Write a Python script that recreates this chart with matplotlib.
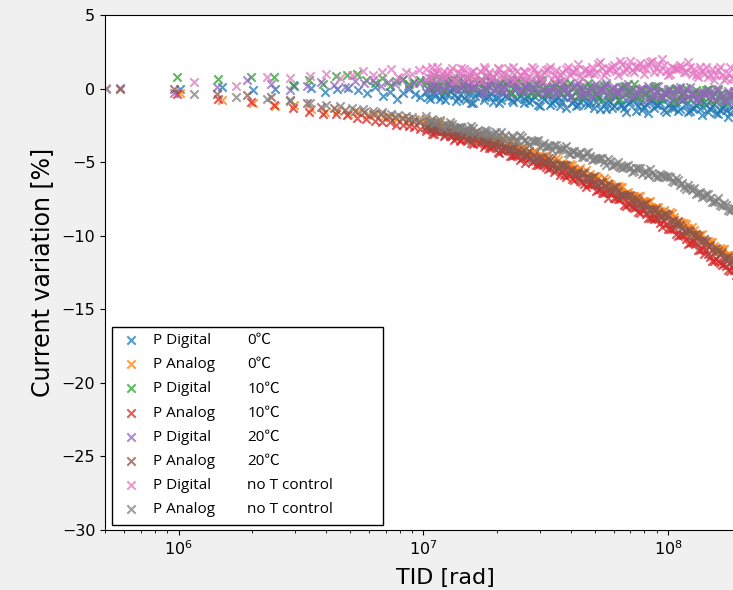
import numpy as np
import matplotlib
matplotlib.use("Agg")
import matplotlib.pyplot as plt
from matplotlib.lines import Line2D
from matplotlib.patches import Rectangle
from matplotlib.font_manager import FontProperties

# ---------------------------------------------------------------------------
# Total ionizing dose of each run, in units of 1e6 rad.
# The first part of every run is sparse; the high-dose readings of all runs
# fall on two interleaved dose lists.
# ---------------------------------------------------------------------------
dose_low_0c = [1.01, 1.50, 2.02, 2.48, 2.96, 3.46, 3.96, 4.44, 4.92, 5.40,
               5.88, 6.36, 6.84, 7.32, 7.80, 8.28, 8.76, 9.24, 9.72]
dose_low_10c = [0.98, 1.45, 1.97, 2.45, 2.92, 3.40, 3.88, 4.38, 4.86, 5.35,
                5.83, 6.31, 6.79, 7.27, 7.75, 8.23, 8.71, 9.19, 9.67]
dose_low_20c = [0.575, 0.96, 1.44, 1.91, 2.39, 2.86, 3.34, 3.82, 4.30, 4.78,
                5.26, 5.74, 6.22, 6.70, 7.18, 7.66, 8.14, 8.62, 9.10, 9.58]
dose_low_not = [0.505, 1.16, 1.72, 2.29, 2.84, 3.43, 3.98, 4.54, 5.10, 5.66,
                6.22, 6.78, 7.34, 7.90, 8.46, 9.02, 9.58]

dose_high = [10.2, 10.6, 11.0, 11.4, 11.9, 12.3, 12.8, 13.3, 13.8, 14.3,
             14.9, 15.4, 16.0, 16.6, 17.3, 17.9, 18.6, 19.3, 20.1, 20.8,
             21.6, 22.5, 23.3, 24.2, 25.2, 26.1, 27.1, 28.2, 29.3, 30.4,
             31.6, 32.8, 34.0, 35.3, 36.7, 38.1, 39.6, 41.1, 42.7, 44.3,
             46.0, 47.8, 49.6, 51.5, 53.5, 55.5, 57.7, 59.9, 62.2, 64.6,
             67.1, 69.6, 72.3, 75.1, 78.0, 81.0, 84.1, 87.3, 90.6, 94.1,
             97.7, 101.5, 105.4, 109.4, 113.6, 118.0, 122.5, 127.2, 132.1, 137.2,
             142.5, 148.0, 153.6, 159.5, 165.7, 172.0, 178.6, 185.5]

dose_mid = [10.4, 10.8, 11.2, 11.65, 12.1, 12.55, 13.05, 13.55, 14.05, 14.6,
            15.15, 15.7, 16.3, 16.95, 17.6, 18.25, 18.95, 19.7, 20.45, 21.2,
            22.05, 22.9, 23.75, 24.7, 25.65, 26.6, 27.65, 28.75, 29.85, 31.0,
            32.2, 33.4, 34.65, 36.0, 37.4, 38.85, 40.35, 41.9, 43.5, 45.15,
            46.9, 48.7, 50.55, 52.5, 54.5, 56.6, 58.8, 61.05, 63.4, 65.85,
            68.35, 70.95, 73.7, 76.55, 79.5, 82.55, 85.7, 88.95, 92.35, 95.9,
            99.6, 103.45, 107.4, 111.5, 115.8, 120.25, 124.85, 129.65, 134.65, 139.85,
            145.25, 150.8, 156.55, 162.6, 168.85, 175.3, 182.05, 189.0]

# ---------------------------------------------------------------------------
# Current variation [%] per channel and temperature setting
# ---------------------------------------------------------------------------
# P Digital, 0 C
pd_0c_low = [-0.05, 0.1, -0.1, -0.05, 0.2, 0.05, -0.2, 0.0, 0.05, -0.1,
             -0.3, 0.1, -0.5, -0.2, -0.7, -0.3, 0.0, -0.4, -0.6]
pd_0c_high = [-0.2, -0.7, -0.3, 0.0, -0.5, -0.8,
              -0.15, -0.45, -0.65, 0.05, -0.75, -0.35,
              -1.0, -0.3, -0.2, -0.6, -0.5, -0.9,
              -0.2, -0.8, -0.5, -0.3, -0.9, -0.7,
              -0.2, -0.7, -0.9, -0.5, -1.1, -0.6,
              -0.4, -1.1, -0.8, -0.6, -0.9, -1.3,
              -0.6, -0.8, -1.1, -0.5, -1.0, -0.9,
              -1.3, -0.5, -0.8, -1.4, -0.9, -1.2,
              -0.8, -1.1, -1.6, -0.9, -0.7, -1.2,
              -1.45, -1.05, -0.85, -1.35, -1.15, -0.65,
              -1.6, -1.0, -1.3, -1.5, -0.8, -1.1,
              -1.5, -1.3, -1.0, -1.8, -1.1, -1.4,
              -1.05, -1.75, -1.35, -1.45, -1.65, -1.15]
pd_0c_mid = [-0.6, 0.0, -0.5, -0.7, -0.2, -0.4,
             0.05, -0.85, -0.35, -0.65, -0.15, -0.95,
             -0.5, -0.3, -0.8, -0.1, -0.4, -0.6,
             -1.0, -0.3, -0.6, -0.8, -0.1, -0.5,
             -1.0, -0.5, -0.8, -0.3, -1.2, -0.7,
             -0.5, -1.0, -0.7, -1.2, -0.6, -0.3,
             -1.0, -1.2, -0.9, -0.6, -1.1, -0.5,
             -0.9, -1.4, -1.1, -0.8, -1.3, -0.5,
             -1.1, -1.3, -1.0, -0.8, -1.5, -0.9,
             -1.25, -1.65, -0.75, -1.15, -0.95, -1.45,
             -1.1, -1.3, -0.9, -1.4, -0.7, -1.6,
             -1.3, -1.1, -1.4, -0.9, -1.6, -1.2,
             -1.65, -1.45, -1.15, -1.95, -1.25, -1.05]

# P Analog, 0 C
pa_0c_low = [-0.3, -0.8, -1.0, -1.2, -1.1, -1.4, -1.6, -1.5, -1.7, -1.6,
             -1.8, -1.75, -1.95, -1.9, -2.05, -2.0, -2.2, -2.1, -2.25]
pa_0c_high = [-2.05, -2.38, -2.61, -2.34, -2.56, -2.75,
              -2.47, -2.94, -2.79, -3.16, -2.87, -2.88,
              -3.14, -3.17, -3.45, -3.13, -3.50, -3.44,
              -3.41, -3.81, -3.80, -3.60, -3.94, -4.14,
              -4.03, -4.43, -4.27, -4.22, -4.66, -4.61,
              -4.60, -4.85, -5.15, -4.86, -5.05, -5.30,
              -5.10, -5.47, -5.53, -5.81, -5.52, -5.79,
              -6.20, -6.07, -6.35, -6.23, -6.50, -6.88,
              -6.65, -6.69, -7.08, -7.33, -7.27, -7.31,
              -7.70, -7.74, -7.63, -8.23, -8.07, -8.36,
              -8.60, -8.42, -8.76, -9.08, -9.16, -9.19,
              -9.77, -9.61, -9.95, -9.90, -10.44, -10.44,
              -10.68, -10.95, -10.88, -11.40, -11.28, -11.30]
pa_0c_mid = [-2.44, -2.27, -2.45, -2.28, -2.81, -2.64,
             -2.86, -2.67, -3.13, -2.94, -2.90, -3.21,
             -2.93, -3.16, -3.34, -3.57, -3.30, -3.53,
             -3.71, -3.46, -3.75, -4.05, -3.89, -4.14,
             -3.98, -4.53, -4.37, -4.32, -4.66, -4.61,
             -4.95, -4.75, -4.71, -5.11, -5.30, -5.25,
             -5.21, -5.58, -5.40, -5.67, -6.03, -6.00,
             -5.96, -6.34, -6.07, -6.44, -6.67, -6.64,
             -6.67, -7.16, -7.01, -7.30, -7.64, -7.33,
             -7.67, -7.71, -8.11, -8.05, -8.29, -8.23,
             -8.64, -8.47, -9.10, -9.07, -9.15, -9.48,
             -9.42, -9.96, -9.95, -10.30, -10.39, -10.44,
             -11.02, -10.84, -10.92, -11.34, -11.62, -11.59]

# P Digital, 10 C
pd_10c_low = [0.8, 0.65, 0.8, 0.8, 0.25, 0.55, 0.3, 0.85, 0.9, 1.0,
              0.6, 0.4, 0.75, 0.2, 0.5, 0.65, 0.3, 0.45, 0.6]
pd_10c_high = [0.4, 0.2, 0.9, 0.1, 0.5, -0.1,
               0.55, 0.65, 0.25, 0.35, -0.05, 0.75,
               0.1, 0.4, 0.6, 0.0, 0.2, 0.8,
               0.2, 0.0, 0.4, -0.2, 0.3, 0.6,
               -0.2, 0.1, 0.3, 0.0, -0.4, 0.4,
               0.1, -0.2, 0.4, -0.1, 0.0, -0.3,
               0.4, 0.1, -0.5, 0.0, -0.3, 0.2,
               -0.15, -0.65, 0.05, 0.25, -0.25, -0.45,
               -0.1, 0.1, -0.4, -0.2, 0.3, -0.6,
               -0.1, -0.4, -0.6, 0.1, -0.2, -0.5,
               -0.35, -0.05, -0.85, -0.15, -0.45, 0.05,
               -0.7, -0.3, -0.4, -0.6, -0.1, -0.8,
               -0.3, 0.0, -0.6, -0.8, -0.4, -0.5]
pd_10c_mid = [0.0, 0.5, 0.2, 0.7, -0.1, 0.4,
              0.55, 0.05, 0.75, 0.45, 0.25, -0.05,
              0.6, 0.3, 0.1, 0.8, 0.4, 0.0,
              0.4, 0.1, 0.6, -0.3, 0.2, 0.5,
              -0.1, 0.2, -0.3, 0.3, 0.6, 0.0,
              -0.3, 0.0, 0.3, -0.2, 0.4, 0.1,
              -0.5, -0.2, 0.1, -0.4, 0.4, -0.1,
              -0.35, -0.05, 0.15, -0.55, 0.05, -0.25,
              -0.7, 0.2, -0.2, 0.0, -0.5, -0.1,
              -0.4, 0.0, -0.5, 0.2, -0.7, -0.3,
              -0.15, -0.45, 0.05, -0.65, -0.25, -0.55,
              -0.4, -0.1, -0.9, -0.2, 0.0, -0.5,
              -0.8, -0.4, -0.9, -0.3, -0.5, -0.2]

# P Analog, 10 C
pa_10c_low = [-0.35, -0.7, -0.9, -1.1, -1.35, -1.6, -1.7, -1.75, -1.8, -2.0,
              -2.05, -2.2, -2.3, -2.3, -2.45, -2.5, -2.55, -2.6, -2.75]
pa_10c_high = [-2.85, -2.73, -3.12, -2.85, -2.88, -3.17,
               -3.20, -3.47, -3.13, -3.50, -3.42, -3.38,
               -3.75, -3.73, -3.52, -3.85, -4.03, -3.92,
               -4.30, -4.15, -4.10, -4.55, -4.50, -4.50,
               -4.75, -5.05, -4.75, -4.95, -5.20, -5.00,
               -5.35, -5.41, -5.67, -5.38, -5.63, -6.04,
               -5.90, -6.18, -6.05, -6.33, -6.70, -6.48,
               -6.50, -6.88, -7.12, -7.05, -7.08, -7.47,
               -7.50, -7.40, -8.00, -7.85, -8.15, -8.40,
               -8.20, -8.50, -8.80, -8.85, -8.85, -9.40,
               -9.20, -9.53, -9.47, -10.00, -9.98, -10.22,
               -10.50, -10.45, -11.00, -10.90, -10.95, -11.45,
               -11.75, -11.73, -11.96, -12.04, -12.42, -12.30]
pa_10c_mid = [-2.59, -3.08, -2.91, -2.89, -3.23, -2.96,
              -3.19, -3.35, -3.57, -3.29, -3.50, -3.67,
              -3.39, -3.68, -3.96, -3.79, -4.03, -3.86,
              -4.40, -4.25, -4.20, -4.55, -4.50, -4.85,
              -4.65, -4.60, -5.00, -5.20, -5.15, -5.10,
              -5.46, -5.27, -5.53, -5.88, -5.84, -5.80,
              -6.17, -5.89, -6.27, -6.49, -6.47, -6.49,
              -6.97, -6.80, -7.09, -7.42, -7.10, -7.44,
              -7.48, -7.88, -7.83, -8.08, -8.03, -8.43,
              -8.23, -8.83, -8.78, -8.83, -9.13, -9.03,
              -9.54, -9.53, -9.86, -9.94, -9.98, -10.56,
              -10.40, -10.50, -10.95, -11.25, -11.25, -11.70,
              -11.59, -11.87, -11.90, -12.33, -12.16, -12.64]

# P Digital, 20 C
pd_20c_low = [0.05, -0.3, 0.1, 0.55, 0.3, -0.1, 0.2, 0.45, 0.25, 0.1,
              0.5, 0.35, 0.6, 0.2, 0.45, 0.3, 0.55, 0.15, 0.4, 0.35]
pd_20c_high = [0.6, 0.2, 0.3, -0.1, 0.7, 0.1,
               0.35, 0.55, -0.05, 0.15, 0.75, 0.25,
               0.0, 0.4, -0.2, 0.3, 0.6, -0.1,
               0.15, 0.35, 0.05, -0.35, 0.45, 0.25,
               -0.1, 0.5, 0.0, 0.1, -0.2, 0.6,
               0.2, -0.4, 0.1, -0.2, 0.3, 0.0,
               -0.55, 0.15, 0.35, -0.15, -0.35, 0.05,
               0.2, -0.3, -0.1, 0.4, -0.5, 0.1,
               -0.3, -0.5, 0.2, -0.1, -0.4, -0.2,
               0.05, -0.75, -0.05, -0.35, 0.15, -0.55,
               -0.2, -0.3, -0.5, 0.0, -0.7, -0.1,
               0.1, -0.5, -0.7, -0.3, -0.4, -0.2,
               -0.75, -0.15, -0.35, -0.85, -0.45, -0.15]
pd_20c_mid = [0.0, 0.7, 0.4, 0.2, -0.1, 0.6,
              0.25, 0.05, 0.75, 0.35, -0.05, 0.45,
              0.1, 0.6, -0.3, 0.2, 0.5, 0.0,
              0.25, -0.25, 0.35, 0.65, 0.05, -0.15,
              0.1, 0.4, -0.1, 0.5, 0.2, -0.3,
              -0.1, 0.2, -0.3, 0.5, 0.0, -0.2,
              0.05, 0.25, -0.45, 0.15, -0.15, -0.55,
              0.3, -0.1, 0.1, -0.4, 0.0, -0.2,
              0.1, -0.4, 0.3, -0.6, -0.2, 0.0,
              -0.35, 0.15, -0.55, -0.15, -0.45, -0.25,
              0.0, -0.8, -0.1, 0.1, -0.4, -0.6,
              -0.3, -0.8, -0.2, -0.4, -0.1, -0.6,
              -0.05, -0.65, -0.75, -0.15, -0.65, -0.85]

# P Analog, 20 C
pa_20c_low = [0.0, -0.05, -0.35, -0.45, -0.6, -0.8, -1.0, -1.25, -1.3, -1.45,
              -1.5, -1.6, -1.7, -1.75, -1.85, -1.95, -2.0, -2.1, -2.2, -2.25]
pa_20c_high = [-2.60, -2.28, -2.66, -2.59, -2.57, -2.95,
               -2.93, -2.70, -3.00, -3.17, -3.04, -3.39,
               -3.21, -3.14, -3.57, -3.50, -3.48, -3.71,
               -3.99, -3.69, -3.88, -4.13, -3.93, -4.27,
               -4.32, -4.57, -4.26, -4.51, -4.91, -4.75,
               -5.00, -4.85, -5.11, -5.46, -5.20, -5.21,
               -5.56, -5.78, -5.70, -5.72, -6.08, -6.11,
               -5.97, -6.54, -6.38, -6.65, -6.87, -6.66,
               -6.93, -7.22, -7.27, -7.26, -7.80, -7.60,
               -7.89, -7.78, -8.28, -8.22, -8.41, -8.66,
               -8.55, -9.07, -8.96, -8.98, -9.46, -9.74,
               -9.71, -9.96, -10.05, -10.45, -10.34, -10.64,
               -11.08, -11.05, -11.08, -11.50, -11.83, -11.65]
pa_20c_mid = [-2.49, -2.72, -2.45, -2.68, -2.86, -2.59,
              -2.87, -3.13, -2.94, -3.16, -2.97, -3.48,
              -3.30, -3.23, -3.56, -3.49, -3.82, -3.60,
              -3.54, -3.94, -4.13, -4.08, -4.03, -4.37,
              -4.17, -4.42, -4.76, -4.71, -4.66, -5.00,
              -4.70, -5.06, -5.26, -5.21, -5.21, -5.66,
              -5.47, -5.74, -6.06, -5.73, -6.05, -6.07,
              -6.43, -6.36, -6.59, -6.51, -6.89, -6.67,
              -7.25, -7.20, -7.24, -7.53, -7.43, -7.92,
              -7.86, -8.16, -8.20, -8.19, -8.74, -8.53,
              -8.59, -9.02, -9.30, -9.27, -9.70, -9.58,
              -9.86, -9.91, -10.35, -10.20, -10.69, -10.94,
              -10.82, -11.24, -11.52, -11.44, -11.72, -11.64]

# P Digital, no temperature control
pd_not_low = [0.05, 0.47, 0.18, 0.81, 0.72, 0.86, 1.0, 0.7, 0.93, 1.2,
              0.9, 1.1, 1.3, 0.8, 1.15, 1.0, 1.25]
pd_not_high = [1.3, 0.7, 0.9, 1.5, 1.0, 0.8,
               1.2, 0.6, 1.1, 1.4, 0.7, 1.0,
               1.2, 0.9, 0.5, 1.3, 1.1, 0.8,
               1.4, 0.9, 1.0, 0.7, 1.5, 1.2,
               0.6, 1.1, 0.8, 1.3, 1.0, 0.5,
               1.25, 1.45, 0.95, 0.75, 1.15, 1.35,
               0.95, 1.15, 1.65, 0.75, 1.35, 1.05,
               1.0, 1.7, 1.4, 1.1, 1.3, 1.6,
               0.95, 1.65, 1.35, 1.85, 1.15, 1.55,
               1.5, 1.3, 1.8, 1.1, 1.7, 2.0,
               1.2, 1.0, 1.4, 1.3, 1.5, 1.1,
               1.5, 1.3, 0.8, 1.2, 1.5, 1.0,
               0.55, 1.25, 0.95, 0.75, 1.45, 0.65]
pd_not_mid = [0.8, 1.5, 1.1, 0.7, 1.2, 0.9,
              1.4, 0.5, 1.0, 1.3, 0.8, 1.1,
              0.6, 1.2, 1.5, 0.9, 0.7, 1.0,
              1.3, 0.8, 1.4, 1.1, 0.6, 0.9,
              1.2, 0.7, 1.5, 1.0, 0.8, 1.1,
              1.35, 0.65, 1.25, 0.95, 0.55, 1.45,
              1.15, 1.35, 0.85, 1.25, 1.05, 1.45,
              1.1, 1.8, 0.9, 1.3, 1.5, 1.2,
              1.85, 1.15, 1.55, 1.25, 1.45, 1.75,
              1.0, 1.7, 1.9, 1.4, 1.2, 1.6,
              0.9, 1.5, 1.3, 1.6, 1.1, 1.8,
              1.0, 0.9, 1.5, 1.0, 0.8, 1.3,
              0.95, 1.45, 0.55, 1.05, 0.75, 1.25]

# P Analog, no temperature control
pa_not_low = [0.0, -0.4, -0.55, -0.7, -0.85, -1.0, -1.15, -1.2, -1.35, -1.4,
              -1.55, -1.6, -1.7, -1.8, -1.85, -1.95, -2.05]
pa_not_high = [-1.85, -2.17, -2.33, -2.20, -2.57, -2.38,
               -2.30, -2.71, -2.62, -2.58, -2.78, -3.04,
               -2.70, -2.85, -3.05, -2.80, -3.10, -3.10,
               -3.30, -2.95, -3.15, -3.50, -3.30, -3.50,
               -3.30, -3.52, -3.83, -3.55, -3.52, -3.83,
               -4.00, -3.87, -3.83, -4.15, -4.12, -3.93,
               -4.45, -4.23, -4.45, -4.63, -4.35, -4.58,
               -4.80, -4.78, -4.72, -5.20, -4.93, -5.17,
               -5.00, -5.42, -5.28, -5.40, -5.57, -5.38,
               -5.80, -5.57, -5.48, -5.85, -6.02, -5.88,
               -6.00, -6.03, -6.37, -6.20, -6.43, -6.82,
               -6.75, -6.73, -7.12, -7.40, -7.18, -7.47,
               -7.70, -7.47, -7.99, -7.91, -8.33, -8.10]
pa_not_mid = [-2.28, -2.10, -2.32, -2.13, -2.65, -2.47,
              -2.38, -2.69, -2.60, -2.91, -2.66, -2.57,
              -2.93, -3.08, -2.98, -2.88, -3.18, -2.93,
              -3.13, -3.43, -3.33, -3.23, -3.53, -3.18,
              -3.48, -3.65, -3.57, -3.53, -3.95, -3.72,
              -3.93, -4.20, -3.82, -4.08, -4.05, -4.37,
              -4.24, -4.42, -4.29, -4.62, -4.34, -4.87,
              -4.74, -4.72, -4.96, -4.79, -5.23, -5.11,
              -5.33, -5.30, -5.22, -5.68, -5.40, -5.37,
              -5.68, -5.85, -5.72, -6.03, -5.80, -5.97,
              -5.92, -6.30, -6.08, -6.52, -6.70, -6.53,
              -6.92, -7.15, -7.03, -7.27, -7.15, -7.73,
              -7.61, -7.88, -7.75, -8.27, -8.14, -8.16]

channel_labels = ["P Digital", "P Analog", "P Digital", "P Analog",
                  "P Digital", "P Analog", "P Digital", "P Analog"]
condition_labels = ["0\u2103", "0\u2103", "10\u2103", "10\u2103",
                    "20\u2103", "20\u2103", "no T control", "no T control"]

y_ticks = [5, 0, -5, -10, -15, -20, -25, -30]

series = [
    (dose_low_0c, pd_0c_low, pd_0c_high, pd_0c_mid),
    (dose_low_0c, pa_0c_low, pa_0c_high, pa_0c_mid),
    (dose_low_10c, pd_10c_low, pd_10c_high, pd_10c_mid),
    (dose_low_10c, pa_10c_low, pa_10c_high, pa_10c_mid),
    (dose_low_20c, pd_20c_low, pd_20c_high, pd_20c_mid),
    (dose_low_20c, pa_20c_low, pa_20c_high, pa_20c_mid),
    (dose_low_not, pd_not_low, pd_not_high, pd_not_mid),
    (dose_low_not, pa_not_low, pa_not_high, pa_not_mid),
]
colors = ["C0", "C1", "C2", "C3", "C4", "C5", "C6", "C7"]


def paired(doses, values):
    """Dose in rad and variation in %, trimmed to the common length."""
    n = min(len(doses), len(values))
    return (np.asarray(doses[:n], dtype=float) * 1e6,
            np.asarray(values[:n], dtype=float))


# ---------------------------------------------------------------------------
fig = plt.figure(figsize=(7.33, 5.90), dpi=100, facecolor="#f0f0f0")
ax = fig.add_axes([105 / 733, 60 / 590, 680 / 733, 515 / 590])
ax.set_facecolor("white")

handles = []
for (d_low, y_low, y_high, y_mid), color in zip(series, colors):
    parts = [paired(d_low, y_low), paired(dose_high, y_high),
             paired(dose_mid, y_mid)]
    x = np.concatenate([p[0] for p in parts])
    y = np.concatenate([p[1] for p in parts])
    h = ax.scatter(x, y, marker="x", s=36, color=color,
                   alpha=0.75, linewidths=1.5)
    handles.append(h)

ax.set_xscale("log")
ax.set_xlim(5e5, 3e8)
ax.set_ylim(-30, 5)
ax.set_yticks(y_ticks)
ax.tick_params(axis="both", labelsize=11.5)

ax.set_xlabel("TID [rad]", fontsize=16, labelpad=7)
ax.set_ylabel("Current variation [%]", fontsize=17, labelpad=5)

# Two-column legend: channel name and temperature setting
blank = [Line2D([], [], linestyle="none") for _ in condition_labels]
legend_font = FontProperties(family=["Open Sans", "Noto Sans CJK JP"], size=11)
frame = Rectangle((7 / 680, 5 / 515), 271 / 680, 198 / 515,
                  transform=ax.transAxes, facecolor="white",
                  edgecolor="black", linewidth=1.0, zorder=4)
ax.add_patch(frame)
leg = ax.legend(handles + blank, channel_labels + condition_labels, ncol=2,
                loc="upper left", bbox_to_anchor=(7 / 680, 203 / 515),
                borderaxespad=0, frameon=False, prop=legend_font,
                handlelength=1.7, handletextpad=0.6, columnspacing=-0.2,
                labelspacing=0.6, borderpad=0.4)
leg.set_zorder(5)

fig.savefig("out.png", dpi=100, facecolor=fig.get_facecolor())
